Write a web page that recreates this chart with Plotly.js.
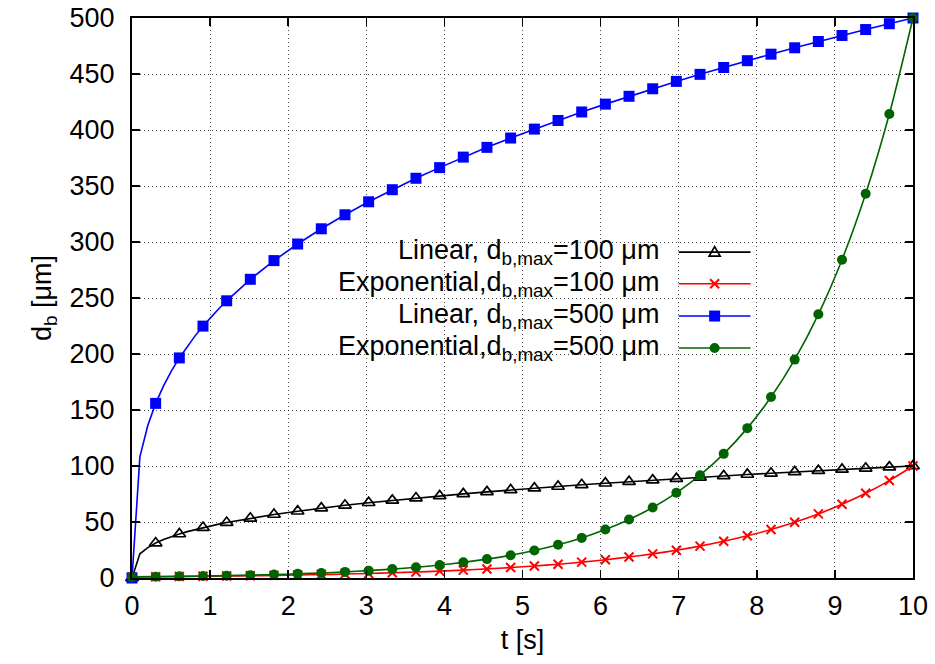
<!DOCTYPE html>
<html>
<head>
<meta charset="utf-8">
<script src="https://cdn.plot.ly/plotly-3.0.1.min.js"></script>
<style>html,body{margin:0;padding:0;background:#fff;}#chart{width:935px;height:664px;}</style>
</head>
<body>
<div id="chart"></div>
<script>
// marker sample times [s]
const tMarks = [0,0.303,0.606,0.909,1.212,1.515,1.818,2.121,2.424,2.727,3.030,3.333,3.636,3.939,4.242,4.545,4.848,5.152,5.455,5.758,6.061,6.364,6.667,6.970,7.273,7.576,7.879,8.182,8.485,8.788,9.091,9.394,9.697,10];
// Linear, d_b,max = 100 um
const linear100 = [0,31.2,39.3,45.0,49.5,53.3,56.7,59.6,62.4,64.9,67.2,69.3,71.4,73.3,75.1,76.9,78.6,80.2,81.7,83.2,84.6,86.0,87.4,88.7,89.9,91.2,92.4,93.5,94.7,95.8,96.9,97.9,99.0,100];
// Exponential, d_b,max = 100 um
const exp100 = [1.00,1.15,1.32,1.52,1.75,2.01,2.31,2.66,3.05,3.51,4.04,4.64,5.34,6.14,7.06,8.11,9.33,10.72,12.33,14.18,16.30,18.74,21.54,24.77,28.48,32.75,37.65,43.29,49.77,57.22,65.79,75.65,86.98,100];
// Linear, d_b,max = 500 um
const linear500 = [0,155.9,196.5,224.9,247.5,266.7,283.4,298.2,311.8,324.3,335.9,346.7,356.9,366.4,375.8,384.5,392.8,400.8,408.5,416.1,423.1,430.1,436.8,443.4,449.7,455.8,461.9,467.7,473.4,479.0,484.4,489.7,494.9,500];
// Exponential, d_b,max = 500 um
const exp500 = [1.00,1.21,1.46,1.76,2.12,2.56,3.10,3.74,4.51,5.45,6.57,7.94,9.58,11.57,13.97,16.86,20.35,24.57,29.66,35.81,43.23,52.19,63.00,76.05,91.81,110.84,133.81,161.54,195.01,235.42,284.22,343.11,414.21,500];
// extra curve samples between markers near t = 0 (steep start of the linear-law curves)
const tEarly = [0.101,0.202,0.404,0.505,0.707,0.808,1.010,1.111];
const linear100Early = [21.6,27.2,34.3,37.0,41.4,43.2,46.6,48.1];
const linear500Early = [108.1,136.2,171.6,184.9,206.8,216.2,232.9,240.4];

const seriesNames = [
  'Linear, d<sub>b,max</sub>=100 μm',
  'Exponential,d<sub>b,max</sub>=100 μm',
  'Linear, d<sub>b,max</sub>=500 μm',
  'Exponential,d<sub>b,max</sub>=500 μm'
];
const xTitle = 't [s]';
const yTitle = 'd<sub>b</sub> [μm]';

function merged(tA, yA, tB, yB) {
  const pts = tA.map((t, i) => [t, yA[i]]).concat(tB.map((t, i) => [t, yB[i]]));
  pts.sort((a, b) => a[0] - b[0]);
  return {x: pts.map(p => p[0]), y: pts.map(p => p[1])};
}

const colors = ['#000000', '#ff0000', '#0000ff', '#006400'];
const FONT = '"Liberation Sans", Arial, Helvetica, sans-serif';
const FS = 27;

const l100 = merged(tMarks, linear100, tEarly, linear100Early);
const l500 = merged(tMarks, linear500, tEarly, linear500Early);

const lineDefs = [
  {x: l100.x, y: l100.y, shape: 'linear'},
  {x: tMarks, y: exp100, shape: 'spline'},
  {x: l500.x, y: l500.y, shape: 'linear'},
  {x: tMarks, y: exp500, shape: 'spline'}
];
const markDefs = [
  {y: linear100, marker: {symbol: 'triangle-up-open', size: 11, color: '#000', line: {width: 1.7, color: '#000'}}},
  {y: exp100, marker: {symbol: 'x-thin-open', size: 9, color: '#ff0000', line: {width: 2, color: '#ff0000'}}},
  {y: linear500, marker: {symbol: 'square', size: 11, color: '#0000ff', line: {width: 0}}},
  {y: exp500, marker: {symbol: 'circle', size: 10, color: '#006400', line: {width: 0}}}
];

const traces = [];
for (let i = 0; i < 4; i++) {
  traces.push({
    type: 'scatter', mode: 'lines', x: lineDefs[i].x, y: lineDefs[i].y,
    line: {color: colors[i], width: 1.6, shape: lineDefs[i].shape, smoothing: 0.8},
    showlegend: false, hoverinfo: 'skip', cliponaxis: false
  });
  traces.push({
    type: 'scatter', mode: 'markers', x: tMarks, y: markDefs[i].y,
    marker: markDefs[i].marker, name: seriesNames[i], showlegend: false, cliponaxis: false
  });
}

// manual gnuplot-style legend (text right-aligned, sample to the right)
const legRows = [291.0, 262.7, 233.9, 205.3];
const legTextX = 6.77, legX0 = 7.0, legX1 = 7.92, legXm = 7.46;
const annotations = [];
const shapes = [];
for (let i = 0; i < 4; i++) {
  annotations.push({
    xref: 'x', yref: 'y', x: legTextX, y: legRows[i], xanchor: 'right', yanchor: 'middle',
    text: seriesNames[i], showarrow: false, font: {family: FONT, size: FS, color: '#000'}
  });
  shapes.push({type: 'line', xref: 'x', yref: 'y', x0: legX0, x1: legX1, y0: legRows[i], y1: legRows[i],
    line: {color: colors[i], width: 1.6}});
}
// legend sample markers
shapes.push({type: 'path', xref: 'x', yref: 'y', xsizemode: 'pixel', ysizemode: 'pixel',
  xanchor: legXm, yanchor: legRows[0], path: 'M -5.5 -4 L 5.5 -4 L 0 5.5 Z', line: {color: '#000', width: 1.7}});
shapes.push({type: 'path', xref: 'x', yref: 'y', xsizemode: 'pixel', ysizemode: 'pixel',
  xanchor: legXm, yanchor: legRows[1], path: 'M -4.5 -4.5 L 4.5 4.5 M -4.5 4.5 L 4.5 -4.5', line: {color: '#ff0000', width: 2}});
shapes.push({type: 'rect', xref: 'x', yref: 'y', xsizemode: 'pixel', ysizemode: 'pixel',
  xanchor: legXm, yanchor: legRows[2], x0: -5.5, x1: 5.5, y0: -5.5, y1: 5.5, fillcolor: '#0000ff', line: {width: 0}});
shapes.push({type: 'circle', xref: 'x', yref: 'y', xsizemode: 'pixel', ysizemode: 'pixel',
  xanchor: legXm, yanchor: legRows[3], x0: -5, x1: 5, y0: -5, y1: 5, fillcolor: '#006400', line: {width: 0}});

const axisCommon = {
  showline: true, linecolor: '#000', linewidth: 2, mirror: 'ticks',
  ticks: 'inside', ticklen: 8, tickwidth: 1.5, tickcolor: '#000',
  showgrid: true, gridcolor: 'rgba(0,0,0,0.7)', gridwidth: 1, griddash: '1px,3px',
  zeroline: false, tickfont: {family: FONT, size: FS, color: '#000'}
};

const layout = {
  width: 935, height: 664,
  margin: {l: 132, r: 22, t: 18, b: 86},
  paper_bgcolor: '#fff', plot_bgcolor: '#fff',
  font: {family: FONT, size: FS, color: '#000'},
  showlegend: false,
  xaxis: Object.assign({}, axisCommon, {
    range: [0, 10], dtick: 1, tick0: 0, ticklabelstandoff: 3,
    title: {text: xTitle, font: {family: FONT, size: FS}, standoff: 10}
  }),
  yaxis: Object.assign({}, axisCommon, {
    range: [0, 500], dtick: 50, tick0: 0,
    ticklabelposition: 'outside', ticklabelstandoff: 10,
    title: {text: yTitle, font: {family: FONT, size: FS}, standoff: 10}
  }),
  annotations: annotations,
  shapes: shapes
};

Plotly.newPlot('chart', traces, layout, {staticPlot: true, displayModeBar: false});
</script>
</body>
</html>
